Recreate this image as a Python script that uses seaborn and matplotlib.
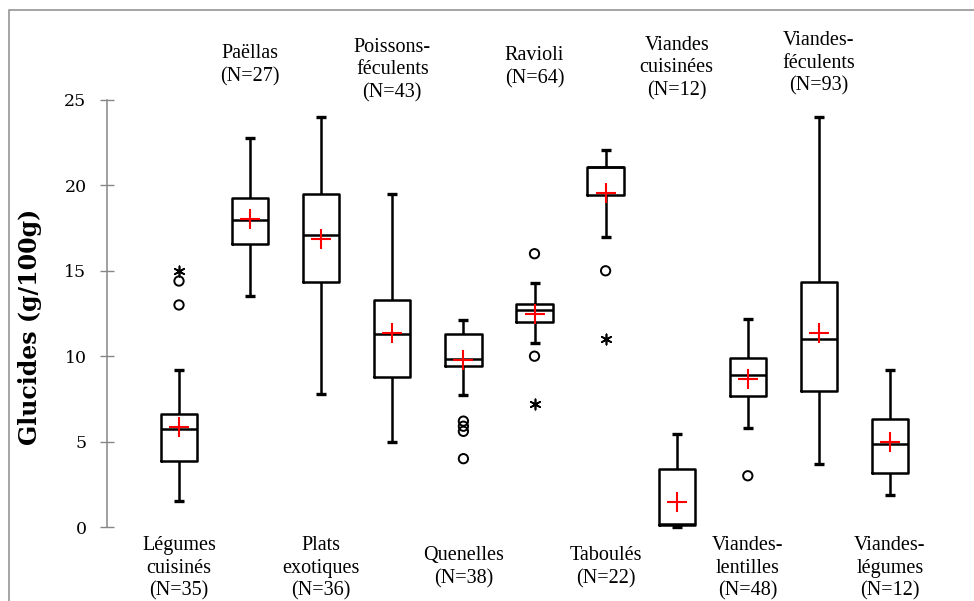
import numpy as np
import pandas as pd
import matplotlib
matplotlib.use("Agg")
import matplotlib.pyplot as plt
import seaborn as sns
from matplotlib.markers import MarkerStyle
from matplotlib.patches import Rectangle

# ---------------- data ----------------
categories = ["Légumes cuisinés", "Paëllas", "Plats exotiques", "Poissons-féculents",
              "Quenelles", "Ravioli", "Taboulés", "Viandes cuisinées",
              "Viandes-lentilles", "Viandes-féculents", "Viandes-légumes"]
display_names = ["Légumes\ncuisinés", "Paëllas", "Plats\nexotiques", "Poissons-\nféculents",
                 "Quenelles", "Ravioli", "Taboulés", "Viandes\ncuisinées",
                 "Viandes-\nlentilles", "Viandes-\nféculents", "Viandes-\nlégumes"]
counts = [35, 27, 36, 43, 38, 64, 22, 12, 48, 93, 12]

whisker_low = [1.5, 13.5, 7.8, 5.0, 7.7, 10.8, 17.0, 0.02, 5.8, 3.7, 1.9]
q1 = [3.85, 16.55, 14.36, 8.8, 9.4, 12.0, 19.42, 0.12, 7.67, 7.98, 3.14]
median = [5.72, 17.97, 17.1, 11.32, 9.84, 12.7, 21.05, 0.18, 8.9, 11.0, 4.84]
q3 = [6.6, 19.28, 19.48, 13.27, 11.3, 13.08, 21.06, 3.4, 9.87, 14.36, 6.34]
whisker_high = [9.2, 22.8, 24.0, 19.5, 12.1, 14.27, 22.1, 5.43, 12.18, 24.0, 9.17]
means = [5.87, 18.05, 16.84, 11.34, 9.8, 12.47, 19.57, 1.48, 8.65, 11.34, 4.99]

outlier_cat = ["Légumes cuisinés", "Légumes cuisinés", "Quenelles", "Quenelles",
               "Quenelles", "Quenelles", "Ravioli", "Ravioli", "Taboulés",
               "Viandes-lentilles"]
outlier_val = [13.0, 14.4, 6.2, 5.9, 5.6, 4.0, 16.0, 10.0, 15.0, 3.0]
extreme_cat = ["Légumes cuisinés", "Ravioli", "Taboulés"]
extreme_val = [15.0, 7.2, 11.0]

y_ticks = [0, 5, 10, 15, 20, 25]
y_label = "Glucides (g/100g)"

# ---------------- layout ----------------
label_y = [-2.42, 27.05, -2.42, 26.76, -2.36, 26.9, -2.36, 26.87, -2.42, 27.14, -2.42]

sns.set_theme(style="white")
plt.rcParams["font.family"] = ["DejaVu Serif", "DejaVu Sans"]

W, H = 974, 601
fig = plt.figure(figsize=(W / 100, H / 100), dpi=100, facecolor="white")
ax = fig.add_axes([107 / W, 74 / H, 853 / W, 427 / H])

rows = []
for c, lo, a, m, b, hi in zip(categories, whisker_low, q1, median, q3, whisker_high):
    for v in (lo, a, m, b, hi):
        rows.append({"cat": c, "val": v})
df = pd.DataFrame(rows)

sns.boxplot(data=df, x="cat", y="val", order=categories, ax=ax, fill=False,
            color="black", linewidth=1.8, width=0.51, whis=(0, 100),
            showcaps=False, showfliers=False)

pos = {c: i for i, c in enumerate(categories)}
xs = np.arange(len(categories))

# whisker caps
cap_df = pd.DataFrame({"x": np.concatenate([xs, xs]),
                       "y": np.concatenate([whisker_low, whisker_high])})
sns.scatterplot(data=cap_df, x="x", y="y", marker="_", color="black", s=45,
                linewidth=2.4, ax=ax, legend=False, zorder=4, clip_on=False)

# outliers
sns.scatterplot(x=[pos[c] for c in outlier_cat], y=outlier_val,
                marker=MarkerStyle("o", fillstyle="none"), color="black", s=45,
                linewidth=1.4, ax=ax, legend=False, zorder=4, clip_on=False)
sns.scatterplot(x=[pos[c] for c in extreme_cat], y=extreme_val,
                marker=(6, 2, 0), color="black", s=55,
                linewidth=1.2, ax=ax, legend=False, zorder=4, clip_on=False)

# means
sns.scatterplot(x=xs, y=means, marker="+", color="red", s=190, linewidth=1.5,
                ax=ax, legend=False, zorder=6, clip_on=False)

ax.set_xlim(-(179 - 107) / 71.1, (960 - 179) / 71.1)
ax.set_ylim(0, 25)
ax.set_xticks([])
ax.set_xlabel("")
ax.set_yticks(y_ticks)
ax.set_yticklabels([str(t) for t in y_ticks])
for s in ["top", "right", "bottom"]:
    ax.spines[s].set_visible(False)
ax.spines["left"].set_color("#868686")
ax.spines["left"].set_linewidth(1.1)
ax.tick_params(axis="y", left=True, direction="inout", length=9.5, width=1.0,
               color="#868686", pad=10, labelsize=12.5, labelcolor="black")
ax.grid(False)

ax.set_ylabel(y_label, fontsize=17, fontweight="bold", color="black")
ax.yaxis.set_label_coords((42 - 107) / 853, (527 - 327) / 427)

for i, (name, n) in enumerate(zip(display_names, counts)):
    ax.text(i, label_y[i], f"{name}\n(N={n})", ha="center", va="center",
            multialignment="center", fontsize=14.5, linespacing=1.27,
            family=["Liberation Serif", "DejaVu Serif"],
            color="black", clip_on=False)

fig.add_artist(Rectangle((9 / W, -0.5), 2, 0.5 + (H - 10) / H,
                         transform=fig.transFigure, fill=False,
                         edgecolor="#8c8c8c", linewidth=1.1))

fig.savefig("out.png", dpi=100, facecolor="white")
